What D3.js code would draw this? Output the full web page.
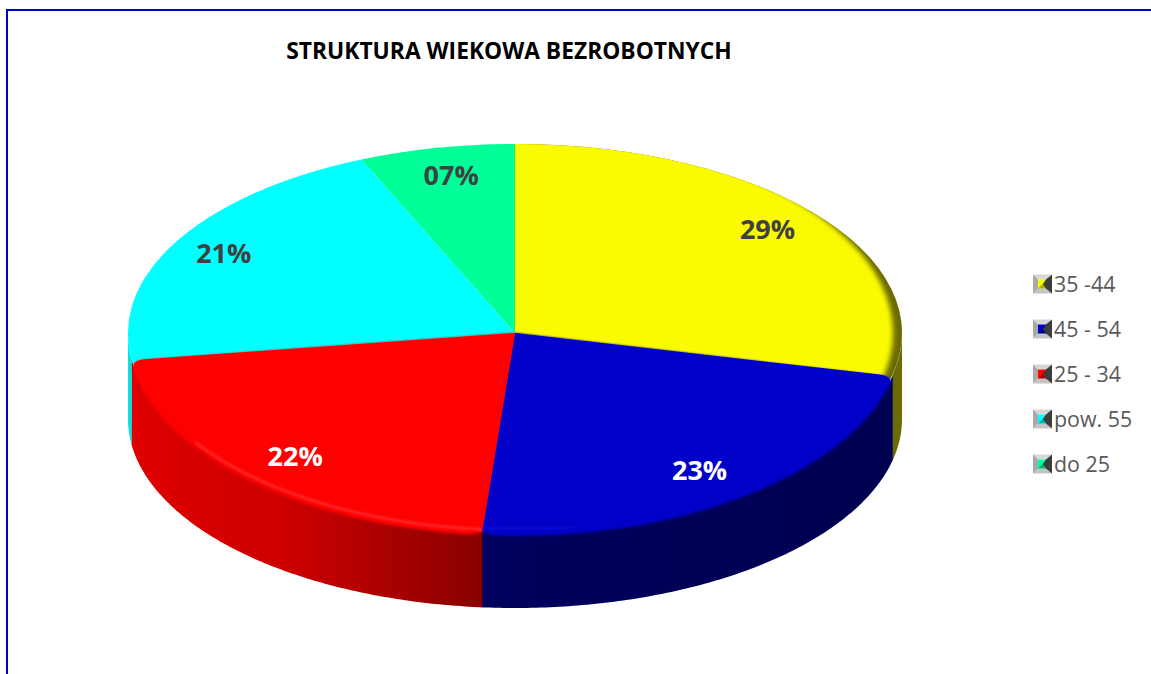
<!DOCTYPE html>
<html><head><meta charset="utf-8">
<script src="https://cdn.jsdelivr.net/npm/d3@7"></script>
<style>html,body{margin:0;padding:0;background:#fff}svg{display:block}</style></head>
<body><svg id="c" width="1151" height="674"></svg>
<script>
const title = "STRUKTURA WIEKOWA BEZROBOTNYCH";
const categories = ["35 -44", "45 - 54", "25 - 34", "pow. 55", "do 25"];
const values = [28.5, 22.9, 21.5, 20.7, 6.5];
const valueLabels = ["29%", "23%", "22%", "21%", "07%"];
const faceColors = ["#fafa00", "#0000c8", "#ff0000", "#00ffff", "#00ff99"];
const labelColors = ["#404040", "#ffffff", "#ffffff", "#404040", "#404040"];

const W = 1151, H = 674, cx = 515, cy = 333, rx = 387, ryBack = 189, ryFront = 203, depth = 86;
const svg = d3.select("#c");
const defs = svg.append("defs");

function addBlur(id, s){
  defs.append("filter").attr("id", id).attr("x", "-5%").attr("y", "-5%").attr("width", "110%").attr("height", "110%")
    .attr("color-interpolation-filters", "sRGB")
    .append("feGaussianBlur").attr("stdDeviation", s);
}
addBlur("b1", 1.3); addBlur("b2", 2.2); addBlur("b3", 2.8);

function hGrad(id, x1, x2, stops){
  const g = defs.append("linearGradient").attr("id", id).attr("gradientUnits", "userSpaceOnUse")
    .attr("x1", x1).attr("x2", x2).attr("y1", 0).attr("y2", 0);
  stops.forEach(s => g.append("stop").attr("offset", s[0]).attr("stop-color", s[1]));
  return `url(#${id})`;
}
const sideFills = [
  "#6b6b00",
  hGrad("gb", 484, 890, [[0, "#00005e"], [1, "#000050"]]),
  hGrad("gr", 132, 484, [[0, "#e00000"], [0.45, "#cc0000"], [1, "#880000"]]),
  "#00e6e6",
  "#00c080"
];

const pieGen = d3.pie().sort(null).value(d => d);
const arcs = pieGen(values);
const midOf = a => (a.startAngle + a.endAngle) / 2;
const isFront = a => midOf(a) > Math.PI / 2 && midOf(a) < Math.PI * 1.5 && a.endAngle - a.startAngle < Math.PI;
const frontIdx = arcs.map((a, i) => isFront(a) ? i : -1).filter(i => i >= 0);
const backIdx = arcs.map((a, i) => isFront(a) ? -1 : i).filter(i => i >= 0);

// extruded sides; each overlaps the next slightly so no seam shows
const seam = 0.004;
const sample = (a0, a1) => d3.range(0, 121).map(k => a0 + (a1 - a0) * k / 120);
const sideArea = ry => d3.area()
  .x(t => cx + rx * Math.sin(t))
  .y0(t => cy - ry * Math.cos(t))
  .y1(t => cy + depth - ryBack * Math.cos(t));
arcs.forEach((a, i) => {
  const a0 = Math.max(a.startAngle, Math.PI / 2), a1 = Math.min(a.endAngle + seam, Math.PI * 1.5);
  if (a1 <= a0) return;
  svg.append("path").attr("d", sideArea(isFront(a) ? ryFront - 8 : ryBack)(sample(a0, a1))).attr("fill", sideFills[i]);
});

// back faces run a little under the front slices, so rounded corners show them
const under = 0.07;
const sharp = d3.arc().innerRadius(0).outerRadius(rx);
const rounded = d3.arc().innerRadius(0).outerRadius(rx).cornerRadius(13);
const widen = (a, i) => ({
  startAngle: a.startAngle - (isFront(arcs[(i + arcs.length - 1) % arcs.length]) ? under : 0),
  endAngle: a.endAngle + (isFront(arcs[(i + 1) % arcs.length]) ? under : 0)
});
const mask = defs.append("mask").attr("id", "rim").attr("maskUnits", "userSpaceOnUse")
  .attr("x", 0).attr("y", 0).attr("width", W).attr("height", H);
mask.append("ellipse").attr("cx", cx - 9).attr("cy", cy).attr("rx", rx).attr("ry", ryBack + 10)
  .attr("fill", "#fff").attr("filter", "url(#b3)");
const backTf = `translate(${cx},${cy}) scale(1,${ryBack / rx})`;
svg.append("g").attr("transform", backTf).append("path").attr("d", sharp(widen(arcs[0], 0))).attr("fill", sideFills[0]);
svg.append("g").attr("mask", "url(#rim)").append("g").attr("transform", backTf)
  .append("path").attr("d", sharp(widen(arcs[0], 0))).attr("fill", faceColors[0]);
const backRest = svg.append("g").attr("transform", backTf);
backIdx.filter(i => i !== 0).forEach(i => {
  backRest.append("path").attr("d", sharp(widen(arcs[i], i))).attr("fill", faceColors[i]);
});

// front faces with a soft bevelled edge
const bevelLine = ry => d3.line().x(t => cx + (rx - 3) * Math.sin(t)).y(t => cy - ry * Math.cos(t));
const front = svg.append("g").attr("transform", `translate(${cx},${cy}) scale(1,${ryFront / rx})`);
const frontSharp = svg.append("g").attr("transform", `translate(${cx},${cy}) scale(1,${(ryFront - 4) / rx})`);
frontIdx.forEach((i, n) => {
  const a = arcs[i], mid = midOf(a);
  front.append("path").attr("d", rounded(a)).attr("fill", faceColors[i]).attr("filter", "url(#b2)");
  frontSharp.append("path").attr("d", rounded(a)).attr("fill", faceColors[i]);
  // keep the shared corner of neighbouring front slices square
  const j = n === 0 ? { startAngle: mid, endAngle: a.endAngle } : { startAngle: a.startAngle, endAngle: mid };
  frontSharp.append("path").attr("d", sharp(j)).attr("fill", faceColors[i]);
});
const redI = categories.indexOf("25 - 34"), blueI = categories.indexOf("45 - 54");
svg.append("path")
  .attr("d", bevelLine(ryFront - 6)(sample(arcs[redI].startAngle, arcs[redI].endAngle - 0.45)))
  .attr("fill", "none").attr("stroke", "#ff2c2c").attr("stroke-width", 2.5).attr("filter", "url(#b1)");
svg.append("path")
  .attr("d", bevelLine(ryFront - 7)(sample(arcs[blueI].endAngle - 0.25, arcs[blueI].endAngle)))
  .attr("fill", "none").attr("stroke", "#0c0cd0").attr("stroke-width", 2.5).attr("filter", "url(#b1)");

// value labels
const labelFrac = 0.84;
const labelNudge = [[-1, -4], [-8, 0], [4, 0], [-8, -2], [2, -2]];
svg.append("g").selectAll("text").data(arcs).join("text")
  .attr("x", (d, i) => cx + labelFrac * rx * Math.sin(midOf(d)) + labelNudge[i][0])
  .attr("y", (d, i) => cy - labelFrac * (isFront(d) ? ryFront : ryBack) * Math.cos(midOf(d)) + labelNudge[i][1])
  .attr("dy", "0.36em").attr("text-anchor", "middle")
  .attr("font-family", "'Open Sans', sans-serif").attr("font-weight", 700).attr("font-size", 27)
  .attr("fill", (d, i) => labelColors[i]).text((d, i) => valueLabels[i]);

// title
svg.append("text").attr("x", 509).attr("y", 59).attr("text-anchor", "middle")
  .attr("font-family", "'Open Sans', sans-serif").attr("font-weight", 700).attr("font-size", 22.8)
  .attr("fill", "#000").text(title);

// legend
const legendY = d3.scalePoint().domain(categories).range([284, 464]);
const colorOf = d3.scaleOrdinal().domain(categories).range(faceColors);
const k = 9.5, c0 = 1042.5, s = 4.5;
const legend = svg.append("g").selectAll("g").data(categories).join("g")
  .attr("transform", d => `translate(${c0},${legendY(d)})`);
const poly = pts => pts.map(p => p.join(",")).join(" ");
legend.append("polygon").attr("points", poly([[-k, -k], [k, -k], [s, -s], [-s, -s]])).attr("fill", "#d6d6d6");
legend.append("polygon").attr("points", poly([[-k, -k], [-s, -s], [-s, s], [-k, k]])).attr("fill", "#a8a8a8");
legend.append("polygon").attr("points", poly([[-k, k], [-s, s], [s, s], [k, k]])).attr("fill", "#c4c4c4");
legend.append("rect").attr("x", -s).attr("y", -s).attr("width", 2 * s).attr("height", 2 * s).attr("fill", d => colorOf(d));
legend.append("polygon").attr("points", poly([[s, -s], [s, s], [-s, s]])).attr("fill", "#000").attr("opacity", 0.3);
legend.append("polygon").attr("points", poly([[k, -k], [k, k], [s - 1, s], [s - 4, 0], [s - 1, -s]])).attr("fill", "#3c3c3c");
legend.append("text").attr("x", 11.5).attr("dy", "0.36em")
  .attr("font-family", "'Open Sans', sans-serif").attr("font-size", 21.4).attr("fill", "#595959").text(d => d);

// frame
svg.append("path").attr("d", d3.line()([[7, H], [7, 10], [W, 10]]))
  .attr("fill", "none").attr("stroke", "#0000cd").attr("stroke-width", 2);
</script></body></html>
